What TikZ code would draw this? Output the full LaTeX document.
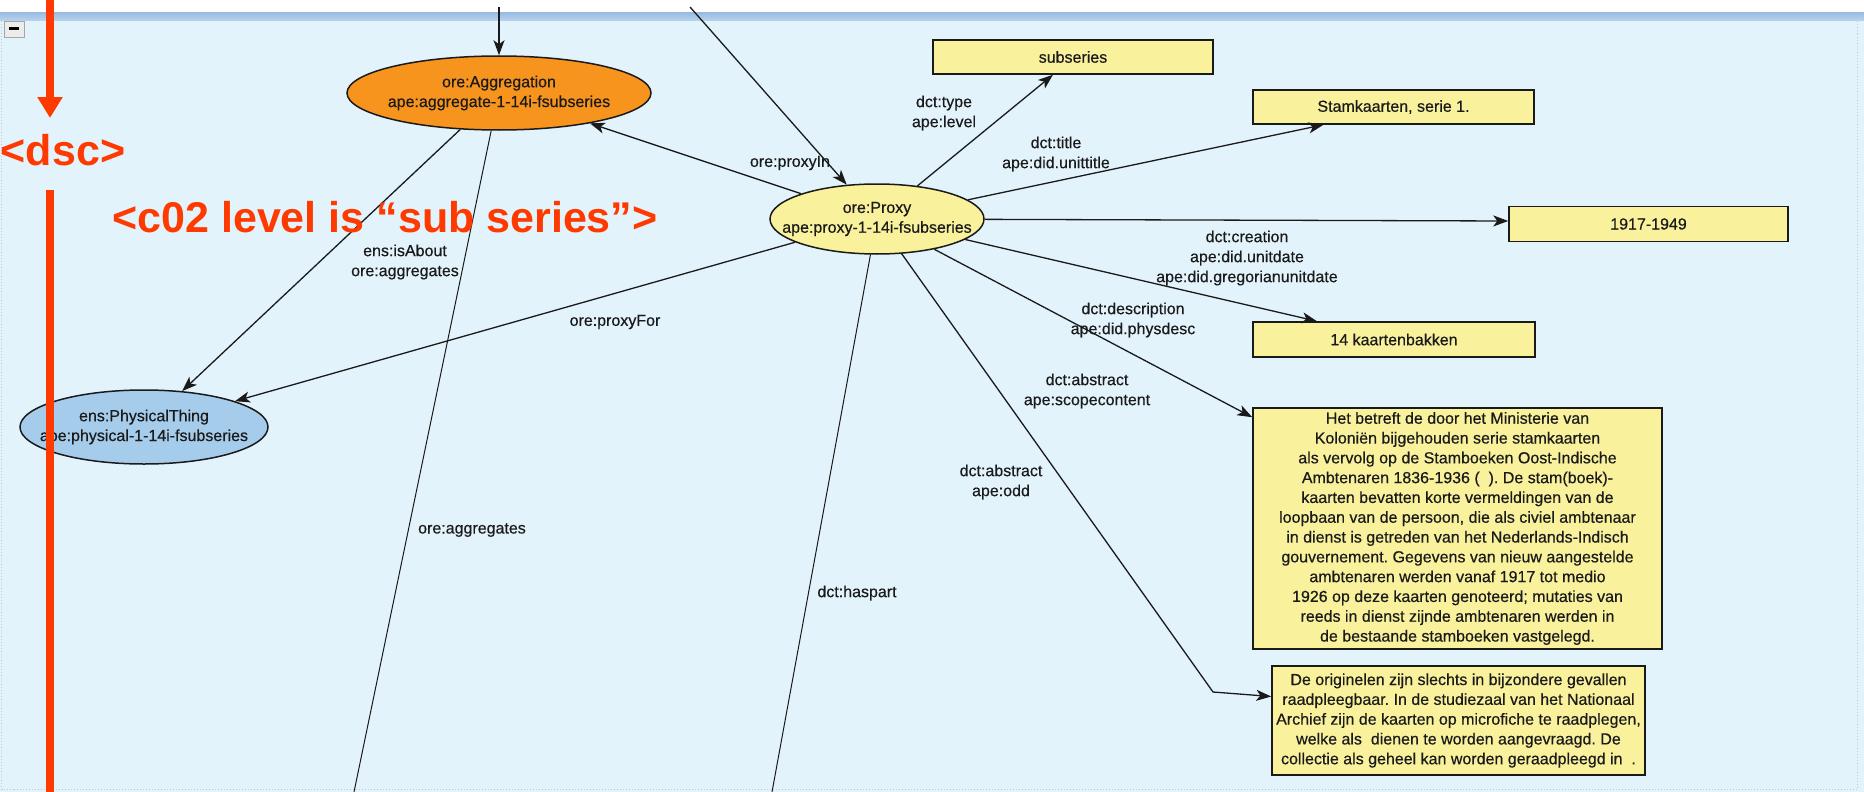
\documentclass[tikz,border=0pt]{standalone}
\usepackage{fontspec}
\setmainfont{Liberation Sans}
\newfontfamily\heavyfont{Liberation Sans}[FakeBold=0.45]
\usetikzlibrary{arrows.meta,shapes.geometric,calc}
\definecolor{bgblue}{HTML}{E3F3FC}
\definecolor{bartop}{HTML}{9CBDE2}
\definecolor{barbot}{HTML}{B9D4EE}
\definecolor{boxyellow}{HTML}{F9F19C}
\definecolor{aggorange}{HTML}{F7941E}
\definecolor{physblue}{HTML}{A6CCEC}
\definecolor{annred}{HTML}{FF3A00}
\definecolor{ink}{HTML}{1A1A1A}
\frenchspacing
\begin{document}
\begin{tikzpicture}[x=1pt,y=-1pt,
  txt/.style={font=\heavyfont\fontsize{16}{19.8}\selectfont, text=ink, align=center, inner sep=0pt},
  lbl/.style={txt, font=\heavyfont\fontsize{16}{20}\selectfont},
  ell/.style={ellipse, draw=ink, line width=1.5pt, inner sep=0pt},
  valbox/.style={rectangle, draw=ink, line width=1.5pt, fill=boxyellow, inner sep=1pt, txt},
  edge/.style={draw=ink, line width=1.3pt, -{Stealth[length=15pt,width=11pt,inset=4pt]}},
  thinedge/.style={draw=ink, line width=1.0pt},
  redline/.style={draw=annred, line width=8pt},
  redtext/.style={text=annred, font=\fontsize{43}{50}\selectfont\bfseries, inner sep=0pt}
]
\useasboundingbox (0,0) rectangle (1864,792);
% background
\fill[white] (0,0) rectangle (1864,13);
\shade[top color=bartop, bottom color=barbot] (0,13) rectangle (1864,21);
\fill[bgblue] (0,21) rectangle (1864,792);
\draw[gray!45, dotted, line width=1pt] (1.5,21) -- (1.5,789) -- (1857,789) -- (1857,21);
\node[draw=gray!70, fill=gray!15, minimum width=20pt, minimum height=16pt, inner sep=0pt] (btn) at (14,29) {\rule{10pt}{3pt}};

% ellipses
\node[ell, fill=aggorange, minimum width=304pt, minimum height=74pt] (agg) at (499,93) {};
\node[txt] (aggT) at (agg) {ore:Aggregation\\ape:aggregate-1-14i-fsubseries};
\node[ell, fill=boxyellow, minimum width=214pt, minimum height=70pt] (proxy) at (877,219) {};
\node[txt] (proxyT) at (proxy) {ore:Proxy\\ape:proxy-1-14i-fsubseries};
\node[ell, fill=physblue, minimum width=248pt, minimum height=74pt] (phys) at (144,427) {};
\node[txt] (physT) at (phys) {ens:PhysicalThing\\ape:physical-1-14i-fsubseries};

% value boxes
\node[valbox, minimum width=280pt, minimum height=34pt] (sub) at (1073,57) {subseries};
\node[valbox, minimum width=281pt, minimum height=34pt] (stam) at (1393.5,107) {Stamkaarten, serie 1.};
\node[valbox, minimum width=279pt, minimum height=35pt] (date) at (1648.5,224) {1917-1949};
\node[valbox, minimum width=282pt, minimum height=35pt] (kaart) at (1394,339.5) {14 kaartenbakken};
\node[valbox, minimum width=409pt, minimum height=241pt] (scope) at (1457.5,528.5) {Het betreft de door het Ministerie van\\
Koloniën bijgehouden serie stamkaarten\\
als vervolg op de Stamboeken Oost-Indische\\
Ambtenaren 1836-1936 (\ \ ). De stam(boek)-\\
kaarten bevatten korte vermeldingen van de\\
loopbaan van de persoon, die als civiel ambtenaar\\
in dienst is getreden van het Nederlands-Indisch\\
gouvernement. Gegevens van nieuw aangestelde\\
ambtenaren werden vanaf 1917 tot medio\\
1926 op deze kaarten genoteerd; mutaties van\\
reeds in dienst zijnde ambtenaren werden in\\
de bestaande stamboeken vastgelegd.};
\node[valbox, minimum width=373pt, minimum height=109pt] (odd) at (1458.5,720.5) {De originelen zijn slechts in bijzondere gevallen\\
raadpleegbaar. In de studiezaal van het Nationaal\\
Archief zijn de kaarten op microfiche te raadplegen,\\
welke als\ \ dienen te worden aangevraagd. De\\
collectie als geheel kan worden geraadpleegd in\ \ .};

% free ends
\coordinate (aggIn) at (499,7);
\coordinate (proxyIn) at (690,7);
\coordinate (aggBot) at (354,792);
\coordinate (hasBot) at (772,792);
\coordinate (oddBend) at (1213,692);

% connectors
\draw[edge] (aggIn) -- (agg);
\draw[edge] (proxyIn) -- (proxy);
\draw[edge] (proxy) -- (agg);
\draw[edge] (agg) -- (phys);
\draw[edge] (proxy) -- (phys);
\draw[thinedge] (agg) -- (aggBot);
\draw[thinedge] (proxy) -- (hasBot);
\draw[edge] (proxy) -- ($(sub.south)+(-20,0)$);
\draw[edge] (proxy) -- ($(stam.south)+(-70,0)$);
\draw[edge] (proxy) -- ($(date.west)+(0,-3)$);
\draw[edge] (proxy) -- ($(kaart.north)+(-77,0)$);
\draw[edge] (proxy) -- ($(scope.north west)+(0,10)$);
\draw[edge] (proxy) -- (oddBend) -- ($(odd.west)+(0,-24)$);

% edge labels
\node[lbl] (lProxyIn) at (790,163) {ore:proxyIn};
\node[lbl] (lIsAbout) at (405,262) {ens:isAbout\\ore:aggregates};
\node[lbl] (lProxyFor) at (615,322) {ore:proxyFor};
\node[lbl] (lAggr) at (472,530) {ore:aggregates};
\node[lbl] (lType) at (944,113) {dct:type\\ape:level};
\node[lbl] (lTitle) at (1056,154) {dct:title\\ape:did.unittitle};
\node[lbl] (lCreation) at (1247,258) {dct:creation\\ape:did.unitdate\\ape:did.gregorianunitdate};
\node[lbl] (lDesc) at (1133,320) {dct:description\\ape:did.physdesc};
\node[lbl] (lScope) at (1087,391) {dct:abstract\\ape:scopecontent};
\node[lbl] (lOdd) at (1001,482) {dct:abstract\\ape:odd};
\node[lbl] (lHas) at (857,593) {dct:haspart};

% red annotations
\node[redtext, anchor=base] (dsc) at (63,165) {<dsc>};
\node[redtext, anchor=base] (c02) at (385,232) {<c02 level is “sub series”>};
\coordinate (redTop) at (50,0);
\coordinate (redTip) at (50,118);
\coordinate (redLow) at (50,190);
\coordinate (redBot) at (50,792);
\draw[redline, -{Triangle[length=21pt,width=24pt]}] (redTop) -- (redTip);
\draw[redline] (redLow) -- (redBot);
\end{tikzpicture}
\end{document}
